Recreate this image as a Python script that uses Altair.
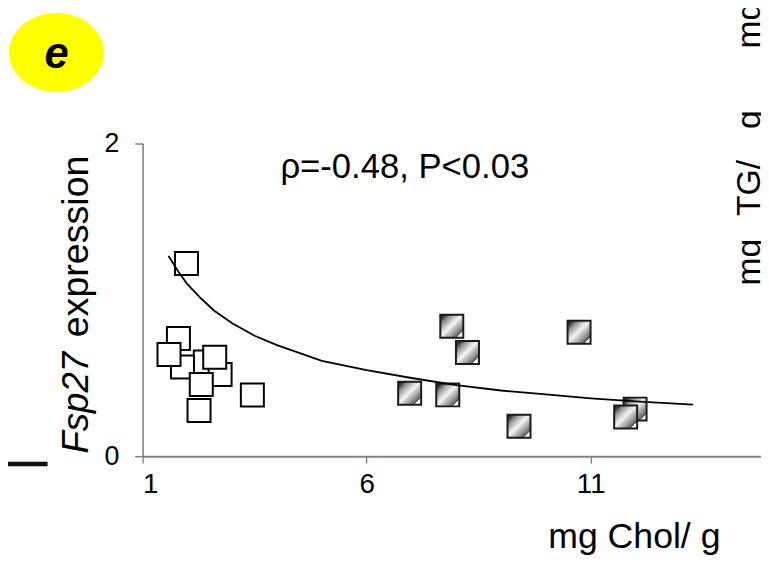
import altair as alt
import pandas as pd

# ---- values ----
open_x = [1.80, 2.40, 1.89, 1.59, 2.73, 2.61, 2.31, 2.26, 1.98, 3.45]
open_y = [0.753, 0.603, 0.570, 0.650, 0.523, 0.633, 0.458, 0.292, 1.232, 0.391]
hatched_x = [6.96, 7.90, 8.25, 7.81, 9.40, 10.74, 11.99, 11.78]
hatched_y = [0.403, 0.831, 0.663, 0.392, 0.192, 0.792, 0.301, 0.251]
curve_x = [1.58, 1.8, 2.0, 2.3, 2.6, 3.0, 3.5, 4.0, 5.0, 6.0, 7.0, 8.0, 9.0, 10.0, 11.0, 12.0, 13.28]
curve_y = [1.28, 1.18, 1.10, 1.01, 0.93, 0.85, 0.77, 0.71, 0.61, 0.55, 0.50, 0.455, 0.42, 0.395, 0.37, 0.35, 0.33]
x_ticks = [1, 6, 11]
y_ticks = [0, 2]
annotation = "ρ=-0.48, P<0.03"
x_title = "mg Chol/ g"
y_title_italic = "Fsp27"
y_title_rest = "expression"
panel_letter = "e"
right_label_parts = ["mg", "TG/", "g"]
right_top_label = "mg"

FONT = "Liberation Sans"

open_df = pd.DataFrame({"x": open_x, "y": open_y, "o": list(range(len(open_x)))})
hatch_df = pd.DataFrame({"x": hatched_x, "y": hatched_y, "o": list(range(len(hatched_x)))})
curve_df = pd.DataFrame({"x": curve_x, "y": curve_y})

xscale = alt.Scale(domain=[1, 14.8], nice=False, zero=False)
yscale = alt.Scale(domain=[0, 2], nice=False, zero=False)

xaxis = alt.Axis(values=x_ticks, title=None, grid=False, labelFont=FONT, labelFontSize=28,
                 labelColor="black", domainColor="#808080", domainWidth=2, tickColor="#555555",
                 tickSize=7, tickWidth=1, labelPadding=8, format="d")
yaxis = alt.Axis(values=y_ticks, title=None, grid=False, labelFont=FONT, labelFontSize=27,
                 labelColor="black", domainColor="#555555", domainWidth=1.2, tickColor="#808080",
                 tickSize=8, tickWidth=1.5, labelPadding=16, format="d")

gradient = {
    "gradient": "linear", "x1": 0, "y1": 0, "x2": 1, "y2": 1,
    "stops": [
        {"offset": 0.0, "color": "#1a1a1a"},
        {"offset": 0.12, "color": "#3c3c3c"},
        {"offset": 0.22, "color": "#8c8c8c"},
        {"offset": 0.36, "color": "#c8c8c8"},
        {"offset": 0.48, "color": "#f6f6f6"},
        {"offset": 0.56, "color": "#d0d0d0"},
        {"offset": 0.70, "color": "#9a9a9a"},
        {"offset": 0.80, "color": "#6e6e6e"},
        {"offset": 0.84, "color": "#444444"},
        {"offset": 0.85, "color": "#ffffff"},
        {"offset": 1.0, "color": "#ffffff"},
    ],
}

X = alt.X("x:Q", scale=xscale, axis=xaxis)
Y = alt.Y("y:Q", scale=yscale, axis=yaxis)

open_pts = alt.Chart(open_df).mark_square(
    size=540, fill="white", stroke="black", strokeWidth=2, opacity=1
).encode(x=X, y=Y, order="o:Q")

hatch_pts = alt.Chart(hatch_df).mark_square(
    size=540, fill=gradient, stroke="#1a1a1a", strokeWidth=2, opacity=1
).encode(x=X, y=Y, order="o:Q")

curve = alt.Chart(curve_df).mark_line(color="black", strokeWidth=1.8).encode(x=X, y=Y)


def label(txt, x, y, size, **kw):
    return alt.Chart(pd.DataFrame({"t": [txt]})).mark_text(
        font=FONT, fontSize=size, color="black", **kw
    ).encode(text="t:N", x=alt.value(x), y=alt.value(y))


ellipse = alt.Chart(pd.DataFrame({"t": [panel_letter]})).mark_point(
    shape="M -1 0 A 1 0.833 0 1 0 1 0 A 1 0.833 0 1 0 -1 0 Z",
    size=9216, filled=True, fill="#ffff00", opacity=1, strokeWidth=0,
).encode(x=alt.value(-87), y=alt.value(-92))

remnant = alt.Chart(pd.DataFrame({"t": [0]})).mark_rule(color="#111111", strokeWidth=4.5).encode(
    x=alt.value(-136), x2=alt.value(-96), y=alt.value(324)
)

layers = [
    open_pts,
    hatch_pts,
    curve,
    ellipse,
    label(panel_letter, -87, -89, 44, fontWeight="bold", fontStyle="italic", align="center", baseline="middle"),
    remnant,
    label(annotation, 265, 35, 35, align="center", baseline="alphabetic"),
    label(x_title, 497, 409, 36, align="center", baseline="alphabetic"),
    label(y_title_italic, -55, 262, 37, angle=270, fontStyle="italic", align="center", baseline="alphabetic"),
    label(y_title_rest, -55, 104, 38, angle=270, align="center", baseline="alphabetic"),
    label(right_label_parts[0], 624, 120, 34, angle=270, align="center", baseline="alphabetic"),
    label(right_label_parts[1], 624, 45, 34, angle=270, align="center", baseline="alphabetic"),
    label(right_label_parts[2], 624, -24, 34, angle=270, align="center", baseline="alphabetic"),
    label(right_top_label, 624, -96, 34, angle=270, align="left", baseline="alphabetic"),
]

chart = alt.layer(*layers).properties(
    width=625, height=316,
    padding={"left": 136, "top": 134, "right": 0, "bottom": 102},
    autosize=alt.AutoSizeParams(type="none"),
).configure_view(stroke=None).configure_axisX(
    labelFontSize=28, labelFont=FONT
).configure_axisY(
    labelFontSize=27, labelFont=FONT
)

chart.save("out.html", embed_options={"renderer": "svg", "actions": False})
